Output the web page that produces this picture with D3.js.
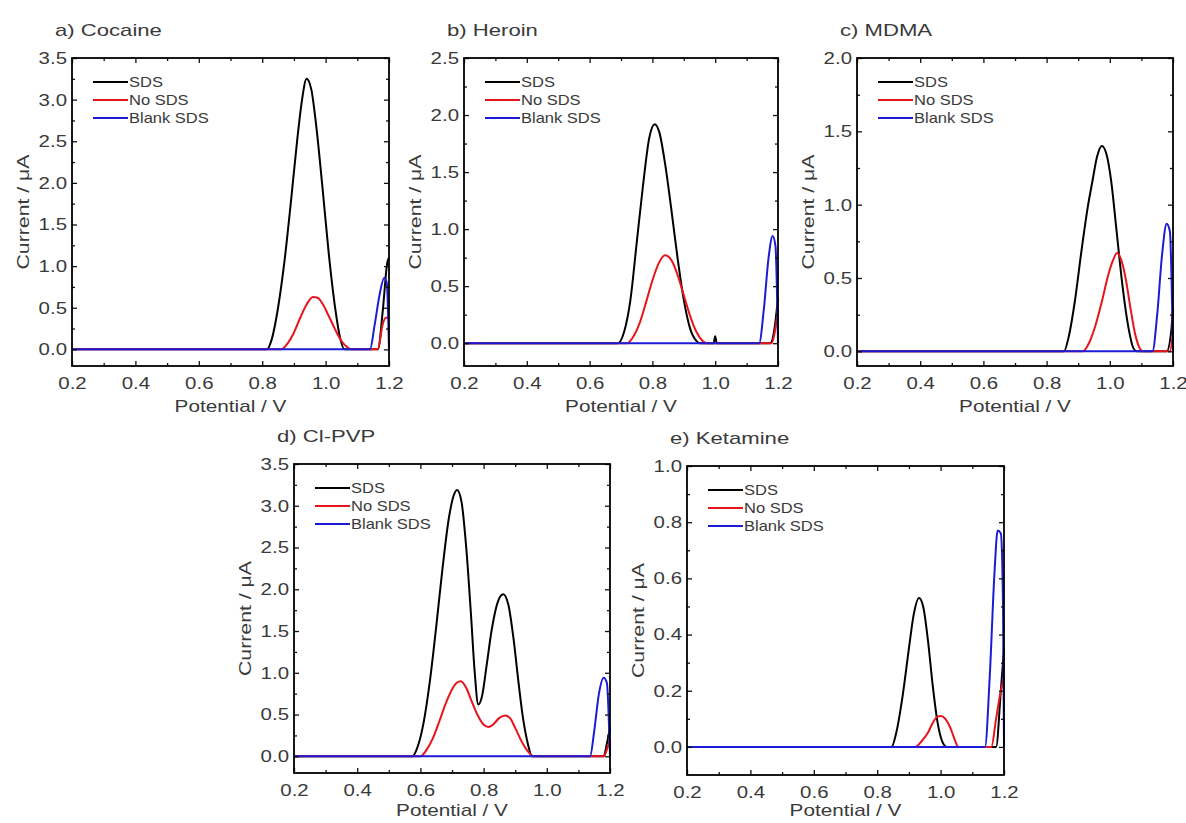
<!DOCTYPE html>
<html>
<head>
<meta charset="utf-8">
<script src="https://cdn.jsdelivr.net/npm/d3@7"></script>
<style>
  html, body { margin: 0; padding: 0; background: #fff; }
  svg { display: block; font-family: "Liberation Sans", Arial, sans-serif; }
</style>
</head>
<body>
<svg id="chart" width="1186" height="823"></svg>
<script>
// ---------------- DATA ----------------
const seriesNames = ["SDS", "No SDS", "Blank SDS"];
const potentialTicks = [0.2, 0.4, 0.6, 0.8, 1.0, 1.2];
const potentialMinorTicks = [0.3, 0.5, 0.7, 0.9, 1.1];

const titles = ["a) Cocaine", "b) Heroin", "c) MDMA", "d) Cl-PVP", "e) Ketamine"];
const currentTicksA = [0.0, 0.5, 1.0, 1.5, 2.0, 2.5, 3.0, 3.5];
const currentTicksB = [0.0, 0.5, 1.0, 1.5, 2.0, 2.5];
const currentTicksC = [0.0, 0.5, 1.0, 1.5, 2.0];
const currentTicksD = [0.0, 0.5, 1.0, 1.5, 2.0, 2.5, 3.0, 3.5];
const currentTicksE = [0.0, 0.2, 0.4, 0.6, 0.8, 1.0];
const currentMinA = -0.2, currentMinB = -0.2, currentMinC = -0.1, currentMinD = -0.2, currentMinE = -0.1;

// a) Cocaine  [potential V, current µA]
const cocaineSDS = [[0.2,0],[0.815,0],[0.83,0.12],[0.85,0.5],[0.87,1.05],[0.89,1.75],[0.91,2.5],[0.925,2.98],[0.94,3.25],[0.955,3.12],[0.97,2.7],[0.99,1.95],[1.01,1.15],[1.03,0.5],[1.045,0.15],[1.06,0],[1.165,0],[1.18,0.45],[1.195,1.05],[1.2,1.1]];
const cocaineNoSDS = [[0.2,0],[0.86,0],[0.88,0.07],[0.9,0.2],[0.92,0.38],[0.94,0.54],[0.96,0.63],[0.975,0.62],[0.99,0.55],[1.01,0.4],[1.03,0.24],[1.05,0.1],[1.07,0.02],[1.08,0],[1.165,0],[1.18,0.3],[1.19,0.38],[1.2,0.38]];
const cocaineBlank = [[0.2,0],[1.14,0],[1.155,0.3],[1.17,0.65],[1.185,0.86],[1.193,0.8],[1.2,0]];

// b) Heroin
const heroinSDS = [[0.2,0],[0.69,0],[0.71,0.1],[0.73,0.38],[0.75,0.88],[0.77,1.38],[0.79,1.8],[0.807,1.92],[0.822,1.85],[0.84,1.58],[0.86,1.18],[0.88,0.75],[0.9,0.38],[0.92,0.13],[0.94,0.02],[0.95,0],[0.995,0],[1.0,0.06],[1.005,0],[1.175,0],[1.19,0.15],[1.2,0.4]];
const heroinNoSDS = [[0.2,0],[0.72,0],[0.74,0.06],[0.76,0.18],[0.78,0.36],[0.8,0.55],[0.82,0.7],[0.84,0.77],[0.86,0.73],[0.88,0.6],[0.9,0.42],[0.92,0.24],[0.94,0.1],[0.96,0.02],[0.975,0],[1.18,0],[1.19,0.1],[1.2,0.3]];
const heroinBlank = [[0.2,0],[1.14,0],[1.155,0.3],[1.17,0.75],[1.183,0.94],[1.192,0.85],[1.2,0]];

// c) MDMA
const mdmaSDS = [[0.2,0],[0.855,0],[0.87,0.1],[0.89,0.35],[0.91,0.68],[0.93,0.98],[0.945,1.16],[0.96,1.33],[0.975,1.4],[0.99,1.34],[1.005,1.15],[1.02,0.85],[1.04,0.45],[1.06,0.15],[1.075,0.02],[1.085,0],[1.18,0],[1.195,0.15],[1.2,0.3]];
const mdmaNoSDS = [[0.2,0],[0.915,0],[0.935,0.06],[0.955,0.18],[0.975,0.34],[0.995,0.52],[1.01,0.62],[1.023,0.67],[1.035,0.63],[1.05,0.5],[1.065,0.3],[1.08,0.12],[1.095,0.02],[1.105,0],[1.19,0],[1.2,0.12]];
const mdmaBlank = [[0.2,0],[1.135,0],[1.15,0.25],[1.165,0.65],[1.18,0.87],[1.19,0.82],[1.2,0]];

// d) Cl-PVP
const clpvpSDS = [[0.2,0],[0.575,0],[0.59,0.1],[0.61,0.4],[0.63,0.9],[0.65,1.55],[0.67,2.25],[0.69,2.85],[0.705,3.12],[0.716,3.19],[0.73,3.05],[0.745,2.5],[0.76,1.7],[0.772,1.0],[0.783,0.62],[0.795,0.72],[0.81,1.1],[0.825,1.5],[0.845,1.85],[0.862,1.94],[0.878,1.82],[0.895,1.4],[0.91,0.9],[0.925,0.45],[0.94,0.15],[0.953,0],[1.18,0],[1.19,0.15],[1.2,0.35]];
const clpvpNoSDS = [[0.2,0],[0.6,0],[0.62,0.08],[0.64,0.22],[0.66,0.42],[0.68,0.63],[0.7,0.8],[0.715,0.88],[0.728,0.9],[0.745,0.82],[0.76,0.68],[0.78,0.5],[0.8,0.38],[0.815,0.35],[0.83,0.38],[0.85,0.46],[0.868,0.49],[0.885,0.45],[0.9,0.34],[0.92,0.18],[0.94,0.06],[0.96,0],[1.18,0],[1.19,0.08],[1.2,0.2]];
const clpvpBlank = [[0.2,0],[1.137,0],[1.15,0.3],[1.165,0.75],[1.18,0.94],[1.19,0.88],[1.2,0]];

// e) Ketamine
const ketamineSDS = [[0.2,0],[0.845,0],[0.86,0.05],[0.88,0.18],[0.9,0.35],[0.915,0.47],[0.932,0.53],[0.945,0.5],[0.96,0.38],[0.975,0.22],[0.99,0.09],[1.005,0.02],[1.02,0],[1.175,0],[1.19,0.2],[1.2,0.35]];
const ketamineNoSDS = [[0.2,0],[0.92,0],[0.94,0.02],[0.96,0.05],[0.975,0.085],[0.99,0.108],[1.0,0.11],[1.015,0.1],[1.03,0.07],[1.04,0.04],[1.05,0.01],[1.055,0],[1.16,0],[1.175,0.1],[1.19,0.2],[1.2,0.25]];
const ketamineBlank = [[0.2,0],[1.14,0],[1.155,0.25],[1.17,0.62],[1.18,0.77],[1.19,0.76],[1.197,0.5],[1.2,0]];

// ---------------- LAYOUT / STYLE ----------------
const colors = ["#000000", "#e8141c", "#1c1cd8"];
const panels = [
  { title: titles[0], box: [72, 389, 58, 366], ticks: currentTicksA, ymin: currentMinA, series: [cocaineSDS, cocaineNoSDS, cocaineBlank] },
  { title: titles[1], box: [464, 778, 58, 366], ticks: currentTicksB, ymin: currentMinB, series: [heroinSDS, heroinNoSDS, heroinBlank] },
  { title: titles[2], box: [857, 1173, 58, 366], ticks: currentTicksC, ymin: currentMinC, series: [mdmaSDS, mdmaNoSDS, mdmaBlank] },
  { title: titles[3], box: [294, 610, 464, 773], ticks: currentTicksD, ymin: currentMinD, series: [clpvpSDS, clpvpNoSDS, clpvpBlank] },
  { title: titles[4], box: [687, 1004, 466, 775], ticks: currentTicksE, ymin: currentMinE, series: [ketamineSDS, ketamineNoSDS, ketamineBlank] }
];

const svg = d3.select("#chart");
const textColor = "#3a3a3a";

function stretch(sel, f) { sel.attr("data-stretch", f); }

panels.forEach(p => {
  const [x0, x1, y0, y1] = p.box;
  const ymax = p.ticks[p.ticks.length - 1];
  const step = p.ticks[1] - p.ticks[0];
  const x = d3.scaleLinear().domain([0.2, 1.2]).range([x0, x1]);
  const y = d3.scaleLinear().domain([p.ymin, ymax]).range([y1, y0]);
  const yMinor = p.ticks.slice(0, -1).map(t => +(t + step / 2).toFixed(3));
  const g = svg.append("g");

  // curves
  const line = d3.line().x(d => x(d[0])).y(d => y(d[1])).curve(d3.curveMonotoneX);
  p.series.forEach((s, i) => {
    g.append("path").datum(s).attr("d", line)
      .attr("fill", "none").attr("stroke", colors[i]).attr("stroke-width", 2)
      .attr("stroke-linejoin", "round");
  });

  // axes
  const styleAxis = a => { a.select(".domain").remove(); a.selectAll("line").attr("stroke", "#111").attr("stroke-width", 1.3); };
  const bottom = g.append("g").attr("transform", `translate(0,${y1})`)
    .call(d3.axisBottom(x).tickValues(potentialTicks).tickSize(-5).tickPadding(11).tickFormat(d3.format(".1f")));
  styleAxis(bottom);
  g.append("g").attr("transform", `translate(0,${y1})`).call(d3.axisBottom(x).tickValues(potentialMinorTicks).tickSize(-3).tickFormat("")).call(styleAxis);
  g.append("g").attr("transform", `translate(0,${y0})`).call(d3.axisTop(x).tickValues(potentialTicks).tickSize(-5).tickFormat("")).call(styleAxis);
  g.append("g").attr("transform", `translate(0,${y0})`).call(d3.axisTop(x).tickValues(potentialMinorTicks).tickSize(-3).tickFormat("")).call(styleAxis);
  const left = g.append("g").attr("transform", `translate(${x0},0)`)
    .call(d3.axisLeft(y).tickValues(p.ticks).tickSize(-5).tickPadding(5).tickFormat(d3.format(".1f")));
  styleAxis(left);
  g.append("g").attr("transform", `translate(${x0},0)`).call(d3.axisLeft(y).tickValues(yMinor).tickSize(-3).tickFormat("")).call(styleAxis);
  g.append("g").attr("transform", `translate(${x1},0)`).call(d3.axisRight(y).tickValues(p.ticks).tickSize(-5).tickFormat("")).call(styleAxis);
  g.append("g").attr("transform", `translate(${x1},0)`).call(d3.axisRight(y).tickValues(yMinor).tickSize(-3).tickFormat("")).call(styleAxis);

  [bottom, left].forEach(a => a.selectAll("text")
    .attr("font-size", 17).attr("fill", textColor).attr("font-family", "Liberation Sans, Arial, sans-serif")
    .call(stretch, 1.2));

  // frame
  g.append("rect").attr("x", x0).attr("y", y0).attr("width", x1 - x0).attr("height", y1 - y0)
    .attr("fill", "none").attr("stroke", "#000").attr("stroke-width", 1.8);

  // title
  g.append("text").attr("x", x0 - 17).attr("y", y0 - 22).text(p.title)
    .attr("font-size", 17).attr("fill", textColor).call(stretch, 1.3);

  // axis labels
  g.append("text").attr("x", (x0 + x1) / 2).attr("y", Math.min(y1 + 46, 816)).attr("text-anchor", "middle")
    .text("Potential / V").attr("font-size", 17).attr("fill", textColor).call(stretch, 1.22);
  g.append("text").attr("transform", `translate(${x0 - 49},${(y0 + y1) / 2}) rotate(-90)`)
    .attr("dy", "0.35em").attr("text-anchor", "middle")
    .text("Current / μA").attr("font-size", 17).attr("fill", textColor).call(stretch, 1.25);

  // legend
  seriesNames.forEach((name, i) => {
    const ly = y0 + 24 + i * 18;
    g.append("line").attr("x1", x0 + 21).attr("x2", x0 + 56).attr("y1", ly).attr("y2", ly)
      .attr("stroke", colors[i]).attr("stroke-width", 2);
    g.append("text").attr("x", x0 + 57).attr("y", ly).attr("dy", "0.36em").text(name)
      .attr("font-size", 15).attr("fill", textColor).call(stretch, 1.1);
  });
});

// apply horizontal stretch to texts to mimic the source's wide lettering
svg.selectAll("text[data-stretch]").each(function() {
  const f = +this.getAttribute("data-stretch");
  const len = this.getComputedTextLength();
  if (len > 0) {
    this.setAttribute("textLength", (len * f).toFixed(1));
    this.setAttribute("lengthAdjust", "spacingAndGlyphs");
  }
});
</script>
</body>
</html>
